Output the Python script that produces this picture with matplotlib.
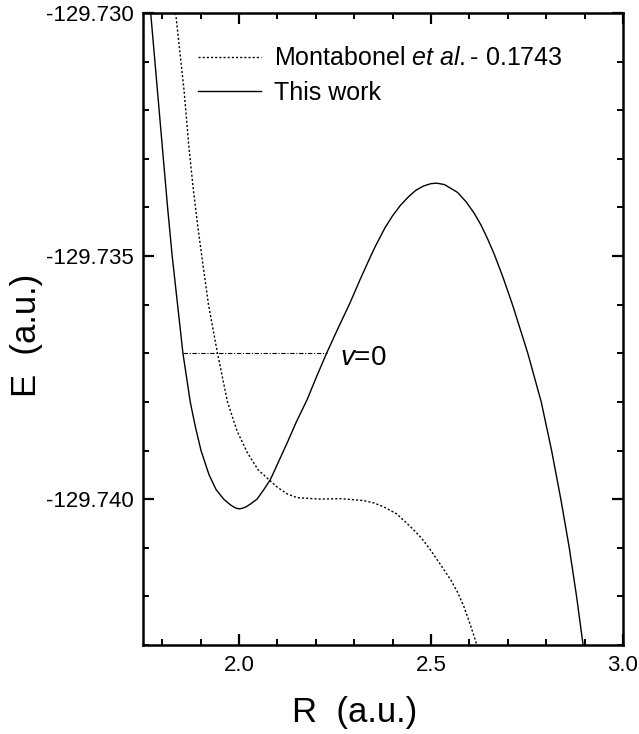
import matplotlib
matplotlib.use("Agg")
import matplotlib.pyplot as plt
from matplotlib.ticker import MultipleLocator, FormatStrFormatter

plt.rcParams['font.family'] = ['Liberation Sans', 'DejaVu Sans']
plt.rcParams['mathtext.fontset'] = 'custom'
plt.rcParams['mathtext.it'] = 'Liberation Sans:italic'
plt.rcParams['mathtext.rm'] = 'Liberation Sans'
plt.rcParams['axes.unicode_minus'] = False

# "This work" potential curve
work_R = [1.770, 1.781, 1.792, 1.803, 1.814, 1.826, 1.840, 1.854, 1.873, 1.886,
          1.901, 1.922, 1.940, 1.960, 1.978, 1.990, 2.000, 2.008, 2.018, 2.030,
          2.047, 2.065, 2.0816, 2.103, 2.125, 2.150, 2.177, 2.202, 2.228, 2.257,
          2.2887, 2.3166, 2.343, 2.355, 2.380, 2.400, 2.420, 2.440, 2.460, 2.480,
          2.500, 2.515, 2.535, 2.569, 2.592, 2.6125, 2.630, 2.647, 2.665, 2.688,
          2.713, 2.752, 2.787, 2.814, 2.838, 2.860, 2.879, 2.896]
work_E = [-129.7300, -129.7310, -129.7320, -129.7330, -129.7340, -129.7350, -129.7360,
          -129.7370, -129.7380, -129.7385, -129.7390, -129.7395, -129.7398,
          -129.7400, -129.74012, -129.74018, -129.74020, -129.74019, -129.74016,
          -129.74010, -129.74000, -129.73980, -129.7396, -129.73923, -129.73885,
          -129.73840, -129.73796, -129.73748, -129.73700, -129.73650, -129.73597,
          -129.73546, -129.73500, -129.73480, -129.73442, -129.73417, -129.73396,
          -129.73379, -129.73365, -129.73356, -129.73351, -129.73350, -129.73353,
          -129.73369, -129.73389, -129.73412, -129.73436, -129.73464, -129.73497,
          -129.73545, -129.73602, -129.73700, -129.73800, -129.73900, -129.74000,
          -129.74100, -129.74200, -129.74300]

# Montabonel et al. curve (shifted by -0.1743)
mont_R = [1.835, 1.846, 1.857, 1.870, 1.882, 1.894, 1.903, 1.9205, 1.944, 1.970,
          1.995, 2.022, 2.050, 2.078, 2.099, 2.125, 2.151, 2.212, 2.264, 2.325,
          2.352, 2.377, 2.410, 2.447, 2.475, 2.499, 2.525, 2.552, 2.570, 2.586,
          2.603, 2.6195]
mont_E = [-129.7300, -129.7308, -129.7316, -129.7328, -129.7337, -129.73447,
          -129.7350, -129.7360, -129.7370, -129.7380, -129.7386, -129.73905,
          -129.7394, -129.7396, -129.73975, -129.73989, -129.73997, -129.74000,
          -129.73999, -129.74003, -129.74008, -129.74016, -129.74030, -129.74057,
          -129.74080, -129.74105, -129.74135, -129.74167, -129.74193, -129.74222,
          -129.74260, -129.74300]

# v=0 vibrational level
v0_R = [1.854, 2.228]
v0_E = [-129.7370, -129.7370]

xlim = (1.75, 3.0)
ylim = (-129.743, -129.730)
xticks_major = 0.5
xticks_minor = 0.1
yticks_major = 0.005
yticks_minor = 0.001

fig = plt.figure(figsize=(6.39, 7.34), dpi=100)
ax = fig.add_axes([0.2238, 0.1213, 0.7512, 0.8610])

ax.plot(mont_R, mont_E, color='black', lw=1.0, linestyle=(0, (1.5, 1.5)),
        label=r'Montabonel $\mathit{et\ al.}$- 0.1743')
ax.plot(work_R, work_E, color='black', lw=1.0, linestyle='-', label='This work')
ax.plot(v0_R, v0_E, color='black', lw=0.8, linestyle=(0, (4, 1.5, 1, 1.5)))
ax.text(2.262, -129.7371, r'$\mathit{v}$=0', fontsize=20, va='center', ha='left')

ax.set_xlim(*xlim)
ax.set_ylim(*ylim)
ax.xaxis.set_major_locator(MultipleLocator(xticks_major))
ax.xaxis.set_minor_locator(MultipleLocator(xticks_minor))
ax.yaxis.set_major_locator(MultipleLocator(yticks_major))
ax.yaxis.set_minor_locator(MultipleLocator(yticks_minor))
ax.xaxis.set_major_formatter(FormatStrFormatter('%.1f'))
ax.yaxis.set_major_formatter(FormatStrFormatter('%.3f'))

ax.tick_params(which='both', direction='in', top=True, right=True, labelsize=16)
ax.tick_params(which='major', length=8, width=1.6, pad=7)
ax.tick_params(which='minor', length=4.5, width=1.4)
for s in ax.spines.values():
    s.set_linewidth(1.8)

ax.set_xlabel('R  (a.u.)', fontsize=25)
ax.set_ylabel('E  (a.u.)', fontsize=25)
ax.xaxis.set_label_coords(0.44, -0.08)
ax.yaxis.set_label_coords(-0.209, 0.49)

leg = ax.legend(loc='upper left', bbox_to_anchor=(0.115, 0.947), frameon=False,
                fontsize=18, handlelength=2.5, handletextpad=0.55,
                labelspacing=0.43, borderpad=0, borderaxespad=0)

fig.savefig('out.png', dpi=100)
